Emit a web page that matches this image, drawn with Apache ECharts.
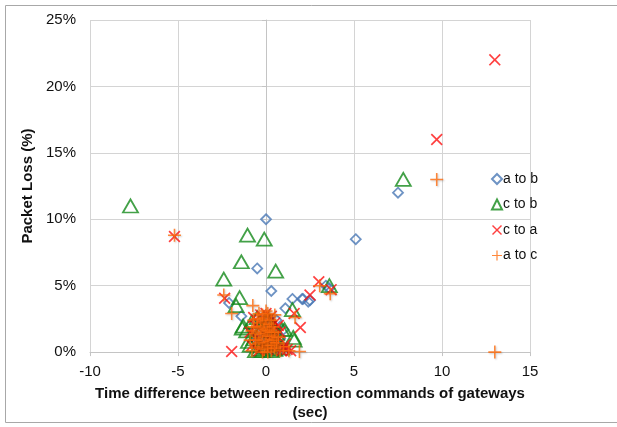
<!DOCTYPE html>
<html lang="en">
<head>
  <meta charset="UTF-8">
  <title>Packet loss vs time difference</title>
  <style>
    html, body { margin: 0; padding: 0; background: #fff; }
    #chart { width: 617px; height: 427px; }
  </style>
  <script src="https://cdn.jsdelivr.net/npm/echarts@6/dist/echarts.min.js"></script>
</head>
<body>
  <div id="chart"></div>
  <script>
    // [time difference (sec), packet loss (%)]
    const aToB = [
      [0.0, 10.0], [-0.5, 6.3], [0.3, 4.6], [5.1, 8.5], [7.5, 12.0], [3.4, 5.0],
      [3.6, 4.8], [2.1, 4.0], [2.4, 3.8], [2.5, 3.9], [1.5, 4.0], [1.1, 3.3],
      [0.6, 2.4], [1.0, 1.7], [-1.4, 2.7], [-2.1, 3.7], [2.05, 4.0],
      [0.2, 1.5], [-0.3, 0.8], [0.5, 0.5], [-0.6, 1.2], [0.8, 1.0]
    ];
    const cToB = [
      [-7.7, 11.0], [-1.05, 8.8], [-0.1, 8.5], [-1.4, 6.8], [0.55, 6.1], [-2.4, 5.5],
      [-1.5, 4.1], [-1.7, 3.5], [3.6, 5.0], [7.8, 13.0], [1.5, 3.2], [1.55, 1.1],
      [1.6, 0.9], [0.9, 1.7], [-1.3, 1.95], [-1.1, 1.6], [-1.35, 1.8], [1.05, 1.7],
      [-0.9, 0.5], [-0.7, 1.0], [-0.8, 2.3], [-0.5, 2.6], [-0.4, 0.2], [-0.2, 0.1],
      [0.0, 0.3], [0.3, 0.1], [0.5, 0.2], [0.7, 0.6], [0.6, 1.4], [0.4, 2.0],
      [0.1, 2.5], [-0.3, 1.6], [-0.6, 0.1], [-1.0, 0.8], [0.9, 0.3], [0.2, 0.8]
    ];
    const cToA = [
      [13.0, 22.0], [9.7, 16.0], [-5.2, 8.7], [3.0, 5.3], [3.7, 4.7], [2.5, 4.3],
      [-2.35, 4.05], [1.6, 2.9], [1.95, 1.85], [-1.95, 0.05], [0.0, 2.9],
      [-0.8, 0.5], [-0.6, 2.0], [-0.3, 2.8], [0.3, 2.7], [0.5, 2.2], [0.8, 1.5],
      [1.0, 0.3], [1.2, 0.2], [0.9, 0.1], [-0.5, 1.2], [-0.2, 0.6], [0.2, 1.0],
      [0.4, 0.4], [-0.9, 1.5], [0.6, 0.8], [1.1, 0.6], [-0.4, 0.1], [0.1, 0.2],
      [-0.7, 2.6], [0.7, 2.0], [-0.1, 1.4], [0.3, 1.8], [1.4, 0.1]
    ];
    const aToC = [
      [9.7, 13.0], [13.0, 0.0], [-5.2, 8.8], [-2.4, 4.3], [-1.95, 2.9], [-0.75, 3.5],
      [3.05, 5.0], [3.65, 4.4], [1.65, 2.6], [1.9, 0.05],
      [-0.9, 0.9], [-0.8, 1.6], [-0.7, 2.4], [-0.6, 0.3], [-0.5, 1.9], [-0.4, 2.9],
      [-0.4, 1.1], [-0.3, 0.4], [-0.3, 2.2], [-0.2, 1.5], [-0.2, 0.0], [-0.1, 2.6],
      [-0.1, 0.9], [0.0, 1.8], [0.0, 0.3], [0.1, 1.2], [0.1, 2.2], [0.2, 0.6],
      [0.2, 1.7], [0.3, 0.1], [0.3, 1.0], [0.4, 1.4], [0.4, 0.5], [0.5, 0.9],
      [0.6, 0.2], [0.6, 1.2], [0.7, 0.6], [0.8, 0.1], [1.0, 0.4], [-0.6, 1.4],
      [-0.8, 0.1], [0.0, 3.1], [0.5, 2.8], [-0.2, 2.0], [0.2, 2.7], [1.3, 0.1],
      [-0.5, 0.6], [-0.5, 2.5], [-0.3, 1.3], [-0.3, 1.8], [-0.1, 0.2], [-0.1, 1.7],
      [-0.1, 2.3], [0.0, 0.7], [0.0, 1.4], [0.0, 2.4], [0.1, 0.5], [0.1, 1.6],
      [0.1, 0.0], [0.2, 1.2], [0.2, 2.1], [0.3, 0.5], [0.3, 1.5], [0.4, 0.9],
      [0.4, 1.9], [0.5, 0.3], [0.5, 1.5], [-0.2, 0.8], [-0.4, 0.7], [-0.6, 0.9],
      [0.6, 0.7], [0.7, 1.1], [-0.2, 2.8], [0.3, 2.4], [0.1, 2.9], [-0.7, 1.9]
    ];

    const seriesNames = ['a to b', 'c to b', 'c to a', 'a to c'];

    // thin X and + shapes as filled paths
    const crossX = 'path://M0,1 L1,0 L5,4 L9,0 L10,1 L6,5 L10,9 L9,10 L5,6 L1,10 L0,9 L4,5 Z';
    const plus = 'path://M4.4,0 H5.6 V4.4 H10 V5.6 H5.6 V10 H4.4 V5.6 H0 V4.4 H4.4 Z';

    const font = 'Liberation Sans, Arial, sans-serif';
    const gridColor = '#d4d4d4';

    const chart = echarts.init(document.getElementById('chart'), null, { renderer: 'canvas' });
    chart.setOption({
      animation: false,
      textStyle: { fontFamily: font },
      grid: { left: 90, right: 87, top: 20, bottom: 69, containLabel: false },
      graphic: [{
        type: 'rect',
        shape: { x: 5.5, y: 5.5, width: 640, height: 417 },
        style: { fill: 'none', stroke: '#a8a8a8', lineWidth: 1 },
        silent: true
      }],
      legend: {
        orient: 'vertical',
        left: 486,
        top: 167,
        itemWidth: 10,
        itemHeight: 10,
        itemGap: 11.5,
        data: seriesNames,
        textStyle: { fontFamily: font, fontSize: 14, color: '#111', padding: [0, 0, 0, -4] }
      },
      xAxis: {
        type: 'value',
        min: -10, max: 15, interval: 5,
        name: 'Time difference between redirection commands of gateways\n(sec)',
        nameLocation: 'middle',
        nameGap: 25,
        nameTextStyle: { fontFamily: font, fontSize: 15, fontWeight: 'bold', color: '#111', lineHeight: 19 },
        axisLine: { onZero: false, lineStyle: { color: '#c4c4c4' } },
        axisTick: { show: true, length: 4, lineStyle: { color: '#c4c4c4' } },
        axisLabel: { fontFamily: font, fontSize: 15, color: '#111', margin: 12 },
        splitLine: { show: true, lineStyle: { color: gridColor } }
      },
      yAxis: {
        type: 'value',
        min: 0, max: 25, interval: 5,
        name: 'Packet Loss (%)',
        nameLocation: 'middle',
        nameGap: 50,
        nameTextStyle: { fontFamily: font, fontSize: 15, fontWeight: 'bold', color: '#111' },
        axisLine: { show: true, lineStyle: { color: '#c4c4c4' } },
        axisTick: { show: true, length: 4, lineStyle: { color: '#c4c4c4' } },
        axisLabel: { fontFamily: font, fontSize: 15, color: '#111', margin: 14, formatter: '{value}%' },
        splitLine: { show: true, lineStyle: { color: gridColor } }
      },
      series: [
        {
          name: 'a to b', type: 'scatter', data: aToB,
          symbol: 'diamond', symbolSize: 10,
          itemStyle: { color: 'rgba(255,255,255,0)', borderColor: '#4a78b5', borderWidth: 1.8 }
        },
        {
          name: 'c to b', type: 'scatter', data: cToB,
          symbol: 'triangle', symbolSize: [15, 13],
          itemStyle: { color: 'rgba(255,255,255,0)', borderColor: '#14891a', borderWidth: 1.8 }
        },
        {
          name: 'c to a', type: 'scatter', data: cToA,
          symbol: crossX, symbolSize: 12,
          itemStyle: { color: '#ff1010' }
        },
        {
          name: 'a to c', type: 'scatter', data: aToC,
          symbol: plus, symbolSize: 13,
          itemStyle: { color: '#ff6a0a', shadowColor: 'rgba(0,0,0,0.25)', shadowBlur: 2, shadowOffsetX: 1, shadowOffsetY: 1 }
        }
      ]
    });
  </script>
</body>
</html>
